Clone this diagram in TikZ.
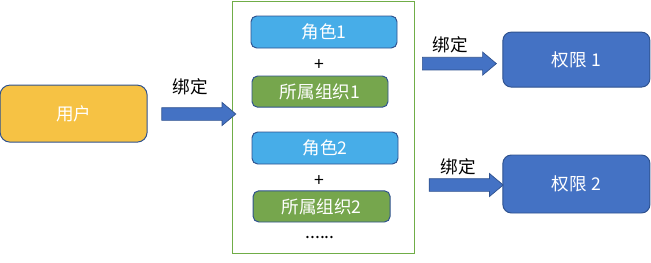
\documentclass[tikz,border=0pt]{standalone}
\usepackage{fontspec}
\setmainfont{Noto Sans CJK SC}
\usetikzlibrary{shapes.arrows}
\definecolor{edge}{HTML}{2F528F}
\definecolor{gold}{HTML}{F6C244}
\definecolor{sky}{HTML}{47ADE8}
\definecolor{leaf}{HTML}{76A64D}
\definecolor{royal}{HTML}{4472C4}
\definecolor{frame}{HTML}{70AD47}
\definecolor{ink}{HTML}{000000}
\begin{document}
\begin{tikzpicture}[font=\fontsize{12.5}{15}\selectfont,
  base/.style={draw=edge,line width=0.7pt,rounded corners=4pt,text=white,inner sep=0pt},
  rolebox/.style={base,fill=sky,minimum width=3.65cm,minimum height=0.8cm},
  orgbox/.style={base,fill=leaf,minimum height=0.78cm},
  permbox/.style={base,fill=royal,rounded corners=6pt,minimum width=3.675cm},
  bindarrow/.style={single arrow,draw=edge,line width=0.5pt,fill=royal,inner xsep=0pt,
               inner ysep=0.15cm,minimum height=1.85cm,single arrow head extend=0.13cm,
               single arrow tip angle=80},
  tag/.style={text=ink,inner sep=0pt}]
  \useasboundingbox (0,0) rectangle (16.275,-6.55);
  \node[base,fill=gold,rounded corners=7pt,minimum width=3.675cm,minimum height=1.425cm] (user) at (1.84,-2.84) {用户};
  \node[draw=frame,line width=0.7pt,minimum width=4.55cm,minimum height=6.3cm] (group) at (8.075,-3.175) {};
  \node[rolebox] (role1) at (8.1,-0.8) {角色1};
  \node[tag] (plus1) at (7.975,-1.625) {+};
  \node[orgbox,minimum width=3.4cm] (org1) at (8.0,-2.29) {所属组织1};
  \node[rolebox] (role2) at (8.125,-3.7) {角色2};
  \node[tag] (plus2) at (7.975,-4.525) {+};
  \node[orgbox,minimum width=3.425cm] (org2) at (8.04,-5.16) {所属组织2};
  \node[tag] (more) at (8.0,-5.95) {......};
  \node[permbox,minimum height=1.375cm] (perm1) at (14.41,-1.49) {权限 1};
  \node[permbox,minimum height=1.45cm] (perm2) at (14.41,-4.6) {权限 2};
  \node[bindarrow] (bind1) at (4.875,-2.85) {};
  \node[bindarrow] (bind2) at (11.39,-1.59) {};
  \node[bindarrow] (bind3) at (11.56,-4.625) {};
  \node[tag] (lab1) at (4.75,-2.175) {绑定};
  \node[tag] (lab2) at (11.25,-1.125) {绑定};
  \node[tag] (lab3) at (11.45,-4.175) {绑定};
\end{tikzpicture}
\end{document}
